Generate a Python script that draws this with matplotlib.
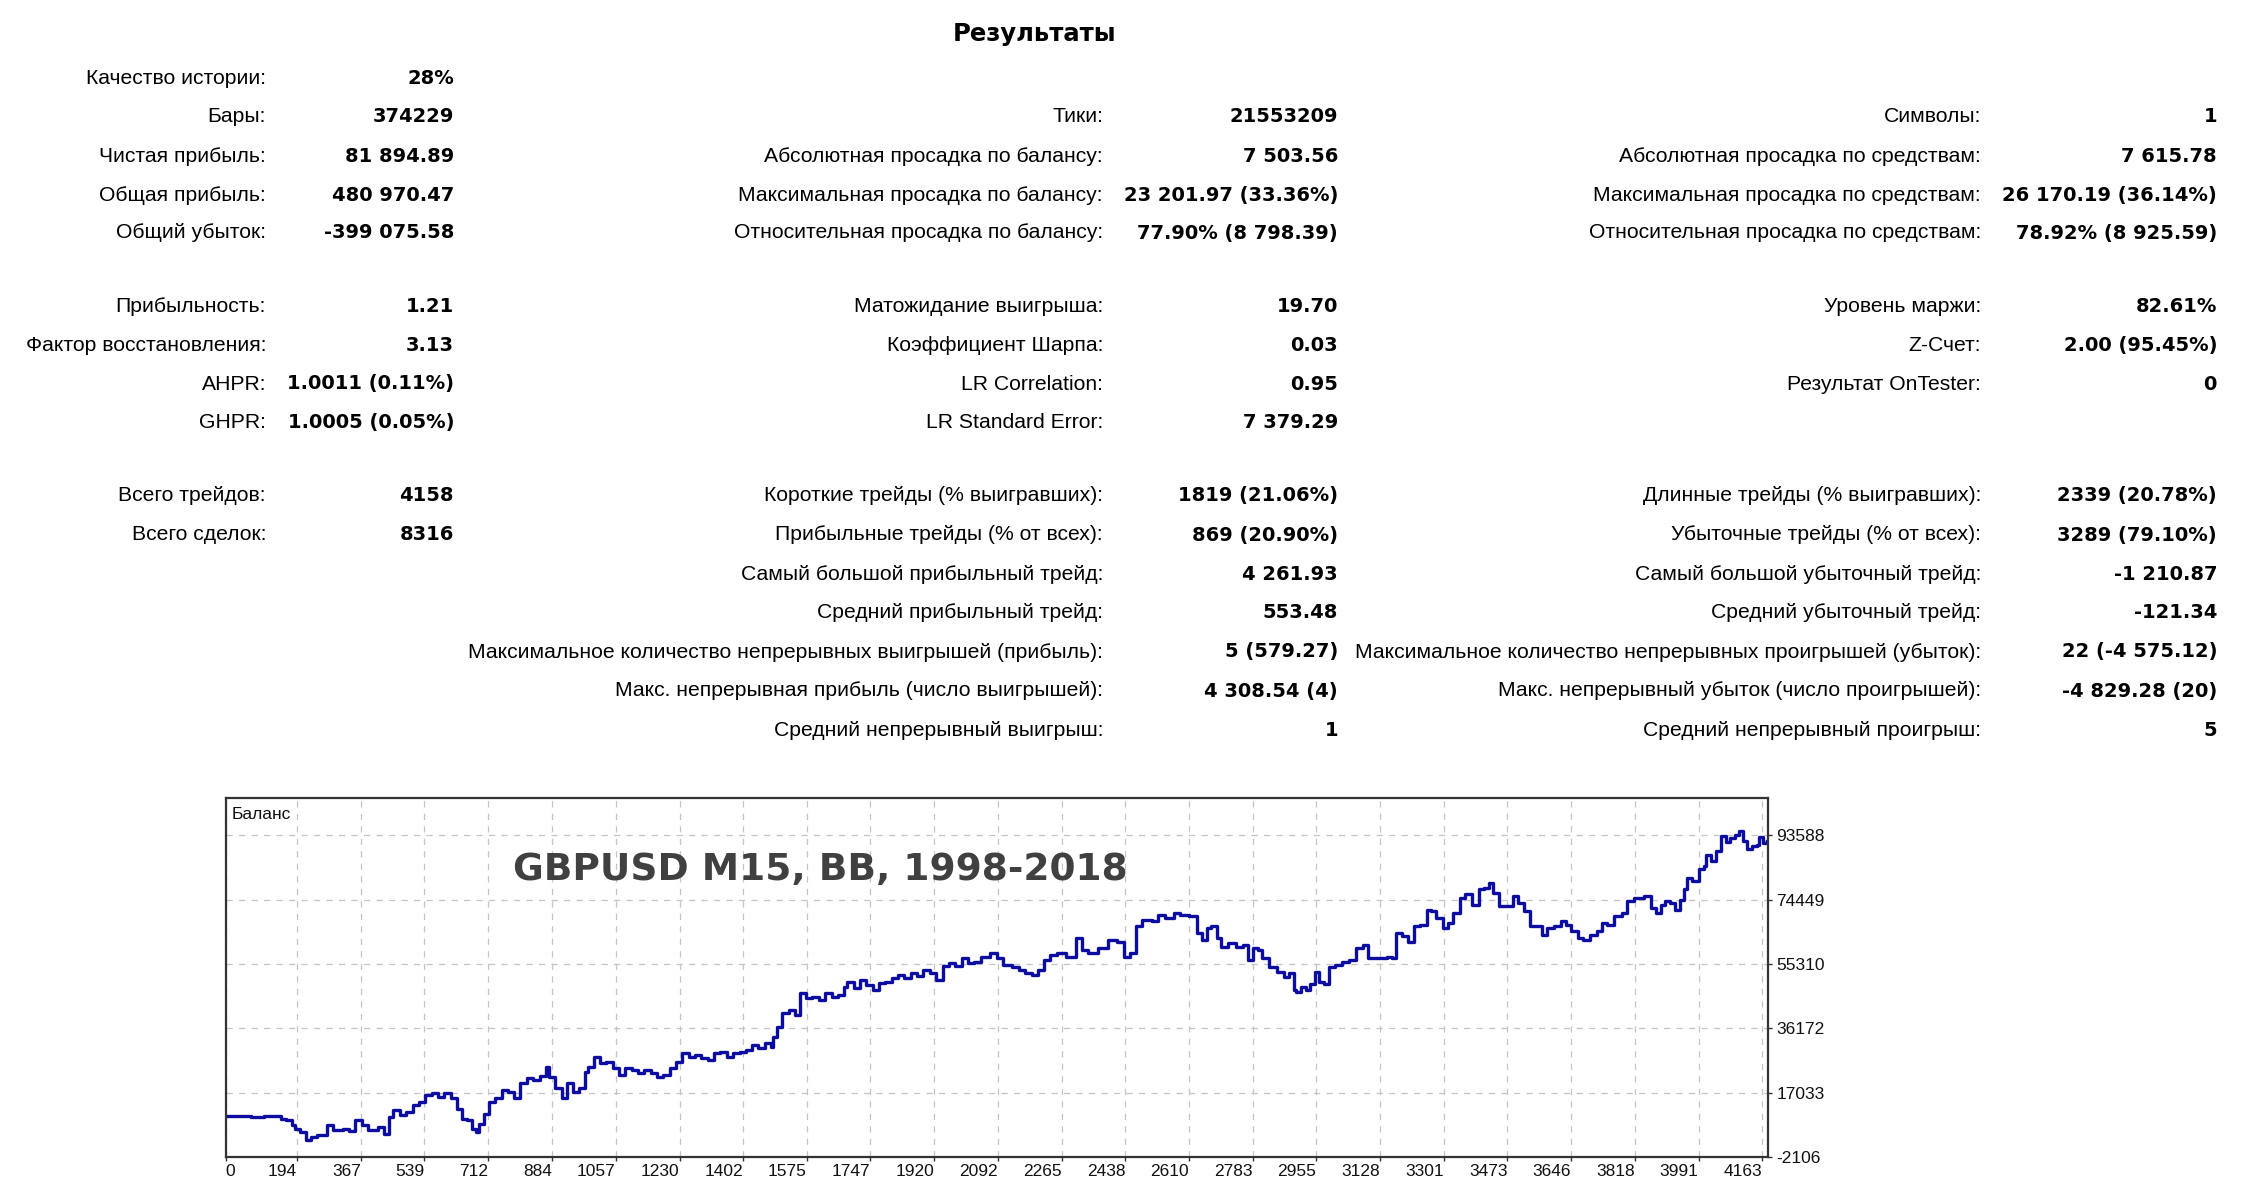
import numpy as np
import matplotlib.pyplot as plt

# ------------------------
# Данные графика баланса
# ------------------------
trades = [0, 34, 69, 103, 138, 151, 163, 172, 180, 189, 203, 218, 232, 249, 275, 292,
          318, 335, 352, 370, 387, 413, 430, 443, 455, 472, 490, 507, 524, 541, 559,
          576, 593, 610, 627, 641, 653, 667, 679, 688, 700, 713, 731, 748, 765, 782,
          799, 816, 834, 851, 868, 877, 894, 911, 925, 942, 959, 973, 983, 997, 1014,
          1031, 1049, 1066, 1083, 1100, 1117, 1135, 1152, 1169, 1186, 1203, 1220, 1238,
          1255, 1272, 1289, 1307, 1324, 1341, 1358, 1375, 1393, 1410, 1427, 1444, 1461,
          1478, 1483, 1495, 1509, 1526, 1543, 1556, 1573, 1590, 1607, 1624, 1642, 1659,
          1676, 1685, 1702, 1719, 1736, 1753, 1771, 1788, 1805, 1822, 1839, 1857, 1874,
          1891, 1908, 1926, 1943, 1960, 1977, 1994, 2011, 2029, 2046, 2072, 2089, 2106,
          2132, 2149, 2166, 2184, 2201, 2218, 2235, 2252, 2278, 2304, 2321, 2338, 2364,
          2390, 2415, 2433, 2450, 2467, 2484, 2510, 2527, 2544, 2570, 2587, 2610, 2632,
          2645, 2658, 2671, 2685, 2698, 2717, 2737, 2756, 2770, 2783, 2796, 2809, 2828,
          2848, 2868, 2881, 2894, 2900, 2913, 2926, 2939, 2953, 2963, 2976, 2989, 3005,
          3025, 3044, 3064, 3083, 3096, 3122, 3148, 3161, 3172, 3188, 3203, 3220, 3237,
          3255, 3266, 3279, 3299, 3312, 3325, 3345, 3358, 3377, 3397, 3410, 3423, 3433,
          3449, 3469, 3489, 3502, 3518, 3535, 3554, 3567, 3580, 3600, 3619, 3632, 3645,
          3665, 3678, 3698, 3717, 3730, 3743, 3763, 3783, 3796, 3816, 3842, 3862, 3875,
          3888, 3901, 3914, 3927, 3940, 3951, 3960, 3973, 3993, 4006, 4012, 4025, 4038,
          4051, 4064, 4077, 4090, 4101, 4110, 4123, 4136, 4149, 4155, 4166, 4175]

balance = [10000, 10200, 9900, 10100, 10000, 9200, 8800, 8900, 7500, 6300, 5300, 2900,
           3800, 4500, 7300, 5800, 6300, 5500, 8800, 7300, 5800, 6800, 4800, 9800, 11800,
           10300, 11300, 13300, 14300, 16300, 16800, 15800, 16800, 15300, 12300, 9300,
           8800, 6300, 5300, 7800, 10800, 14300, 15300, 17800, 17300, 15300, 19800, 21300,
           20800, 22000, 24700, 21800, 18300, 15300, 19800, 17300, 18300, 23300, 24700,
           27700, 25800, 26200, 24300, 22300, 24300, 23800, 22800, 23800, 22800, 21800,
           22300, 24300, 26200, 28700, 27700, 28200, 27200, 26700, 28700, 29200, 27700,
           28700, 29200, 29700, 31200, 30200, 31700, 30700, 33700, 36700, 40600, 41600,
           40100, 46600, 45100, 45600, 44600, 46600, 45600, 46200, 48600, 50000, 48100,
           50600, 49100, 47600, 49600, 50100, 51100, 52100, 51100, 52600, 51600, 53600,
           52600, 50600, 54600, 55600, 54600, 57000, 55500, 56000, 57500, 58500, 57000,
           55000, 54500, 53500, 52500, 52000, 53500, 56500, 58000, 58500, 57500, 63000,
           59500, 58500, 60000, 62500, 62000, 57500, 58500, 66500, 68500, 68000, 70000,
           69000, 70500, 70000, 69500, 64500, 62500, 66000, 66500, 63000, 60500, 61500,
           60500, 61000, 56500, 60000, 59500, 57000, 54500, 53000, 51500, 52500, 47600,
           47000, 48500, 47600, 49500, 53000, 50000, 49500, 54500, 55000, 56000, 56500,
           60000, 61000, 57000, 57000, 57500, 57000, 64500, 63500, 62000, 66500, 67000,
           71500, 71000, 69000, 66000, 67500, 70500, 75000, 76000, 73000, 77500, 78000,
           79400, 76500, 72500, 72500, 75500, 73500, 71000, 66500, 66500, 64000, 66000,
           66500, 68000, 67000, 65000, 63000, 62500, 64000, 65000, 67500, 67000, 69500,
           70500, 74000, 75000, 75500, 72000, 70500, 73000, 74000, 73500, 71500, 74500,
           77500, 81000, 80000, 83500, 84500, 87800, 86000, 89000, 93300, 91500, 92800,
           93800, 94800, 92000, 89500, 90300, 90800, 93000, 91300, 91900]

x_ticks = [0, 194, 367, 539, 712, 884, 1057, 1230, 1402, 1575, 1747, 1920, 2092, 2265,
           2438, 2610, 2783, 2955, 3128, 3301, 3473, 3646, 3818, 3991, 4163]
y_ticks = [-2106, 17033, 36172, 55310, 74449, 93588]

# ------------------------
# Таблица результатов
# ------------------------
col1_rows = [0, 1, 2, 3, 4, 5, 6, 7, 8, 9, 10]
col1_labels = ["Качество истории:", "Бары:", "Чистая прибыль:", "Общая прибыль:",
               "Общий убыток:", "Прибыльность:", "Фактор восстановления:", "AHPR:",
               "GHPR:", "Всего трейдов:", "Всего сделок:"]
col1_values = ["28%", "374229", "81 894.89", "480 970.47", "-399 075.58", "1.21", "3.13",
               "1.0011 (0.11%)", "1.0005 (0.05%)", "4158", "8316"]

col2_rows = [1, 2, 3, 4, 5, 6, 7, 8, 9, 10, 11, 12, 13, 14, 15]
col2_labels = ["Тики:", "Абсолютная просадка по балансу:",
               "Максимальная просадка по балансу:", "Относительная просадка по балансу:",
               "Матожидание выигрыша:", "Коэффициент Шарпа:", "LR Correlation:",
               "LR Standard Error:", "Короткие трейды (% выигравших):",
               "Прибыльные трейды (% от всех):", "Самый большой прибыльный трейд:",
               "Средний прибыльный трейд:",
               "Максимальное количество непрерывных выигрышей (прибыль):",
               "Макс. непрерывная прибыль (число выигрышей):",
               "Средний непрерывный выигрыш:"]
col2_values = ["21553209", "7 503.56", "23 201.97 (33.36%)", "77.90% (8 798.39)", "19.70",
               "0.03", "0.95", "7 379.29", "1819 (21.06%)", "869 (20.90%)", "4 261.93",
               "553.48", "5 (579.27)", "4 308.54 (4)", "1"]

col3_rows = [1, 2, 3, 4, 5, 6, 7, 9, 10, 11, 12, 13, 14, 15]
col3_labels = ["Символы:", "Абсолютная просадка по средствам:",
               "Максимальная просадка по средствам:",
               "Относительная просадка по средствам:", "Уровень маржи:", "Z-Счет:",
               "Результат OnTester:", "Длинные трейды (% выигравших):",
               "Убыточные трейды (% от всех):", "Самый большой убыточный трейд:",
               "Средний убыточный трейд:",
               "Максимальное количество непрерывных проигрышей (убыток):",
               "Макс. непрерывный убыток (число проигрышей):",
               "Средний непрерывный проигрыш:"]
col3_values = ["1", "7 615.78", "26 170.19 (36.14%)", "78.92% (8 925.59)", "82.61%",
               "2.00 (95.45%)", "0", "2339 (20.78%)", "3289 (79.10%)", "-1 210.87",
               "-121.34", "22 (-4 575.12)", "-4 829.28 (20)", "5"]

# ------------------------
# Разметка (пиксели)
# ------------------------
W, H = 2246, 1196
row_y = [78, 117, 156, 195, 233, 307, 346, 384, 423, 496, 535, 574, 613, 652, 691, 730]
columns = [(266, 454, col1_rows, col1_labels, col1_values),
           (1103, 1338, col2_rows, col2_labels, col2_values),
           (1981, 2217, col3_rows, col3_labels, col3_values)]

plt.rcParams['font.family'] = ['Liberation Sans', 'DejaVu Sans']
BOLD = ['DejaVu Sans']

fig = plt.figure(figsize=(W / 100, H / 100), dpi=100)
fig.patch.set_facecolor('white')

fig.text(1035 / W, 1 - 34 / H, "Результаты", fontsize=17.5, fontweight='bold',
         ha='center', va='center', family=BOLD)

for lab_x, val_x, rows, labels, values in columns:
    for r, lab, val in zip(rows, labels, values):
        y = 1 - row_y[r] / H
        fig.text(lab_x / W, y, lab, fontsize=15.2, ha='right', va='center')
        fig.text(val_x / W, y, val, fontsize=14, fontweight='bold',
                 ha='right', va='center', family=BOLD)

# ------------------------
# График баланса
# ------------------------
left, right, top, bottom = 225.5, 1768, 798, 1157
ax = fig.add_axes([left / W, 1 - bottom / H, (right - left) / W, (bottom - top) / H])
ax.plot(trades, balance, color='#0c0ca0', lw=2.4, drawstyle='steps-post')
ax.set_xlim(0, 4179)
ax.set_ylim(-2106, 104700)

ax.set_xticks(x_ticks)
ax.set_yticks(y_ticks)
ax.set_xticklabels([str(v) for v in x_ticks])
ax.set_yticklabels([str(v) for v in y_ticks])
ax.yaxis.tick_right()
ax.tick_params(axis='both', length=3, width=1, color='#333333', labelsize=12.5,
               labelcolor='#111111')
ax.tick_params(axis='x', pad=2)
ax.tick_params(axis='y', pad=3)
for i, lbl in enumerate(ax.get_xticklabels()):
    lbl.set_ha('left' if i == 0 else 'right')

ax.grid(True, color='#c4c4c4', lw=0.9, linestyle=(0, (5, 5)))
ax.set_axisbelow(True)
for s in ax.spines.values():
    s.set_color('#333333')
    s.set_linewidth(1.6)

ax.text(0.004, 0.955, "Баланс", transform=ax.transAxes, fontsize=12.5,
        ha='left', va='center', color='#111111')
ax.text(513 / W, 1 - 870 / H, "GBPUSD M15, BB, 1998-2018", transform=fig.transFigure,
        fontsize=27, fontweight='bold', color='#404040', ha='left', va='center',
        family=['DejaVu Sans'])

plt.savefig('out.png', dpi=100)
